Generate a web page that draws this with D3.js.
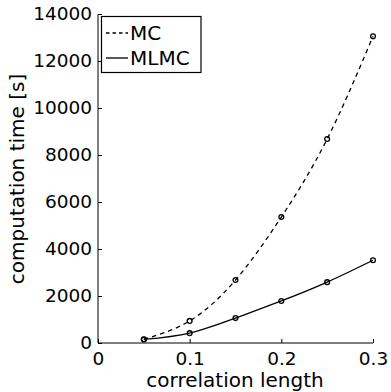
<!DOCTYPE html>
<html lang="en">
<head>
<meta charset="utf-8">
<title>Computation time</title>
<script src="https://d3js.org/d3.v7.min.js"></script>
<style type="text/css">
  body { margin: 0; background: white; }
  .tick text { font-family: "DejaVu Sans", sans-serif; font-size: 18.5px; fill: black; }
  .lbl { font-family: "DejaVu Sans", sans-serif; font-size: 20px; fill: black; }
</style>
</head>
<body>
<svg width="391" height="392"></svg>
<script type="text/javascript">
// data
const corrLength = [0.05, 0.1, 0.15, 0.2, 0.25, 0.3];
const mcTime = [160, 940, 2680, 5360, 8680, 13050];
const mlmcTime = [150, 420, 1060, 1790, 2590, 3520];
const xTicks = [0, 0.1, 0.2, 0.3];
const yTicks = [0, 2000, 4000, 6000, 8000, 10000, 12000, 14000];

const svg = d3.select("svg");
const plotLeft = 98, plotRight = 373, plotTop = 14, plotBottom = 343;

const x = d3.scaleLinear().domain([0, 0.3]).range([plotLeft, plotRight]);
const y = d3.scaleLinear().domain([0, 14000]).range([plotBottom, plotTop]);

// axes, ticks pointing inward
svg.append("g")
   .attr("transform", "translate(0," + plotBottom + ")")
   .call(d3.axisBottom(x).tickValues(xTicks).tickSize(-4).tickPadding(9).tickFormat(d => d === 0 ? "0" : d3.format(".1f")(d)))
   .call(g => g.select(".domain").attr("stroke", "black").attr("d", "M" + plotLeft + ",0H" + plotRight))
   .call(g => g.selectAll(".tick line").attr("stroke", "black"));

svg.append("g")
   .attr("transform", "translate(" + plotLeft + ",0)")
   .call(d3.axisLeft(y).tickValues(yTicks).tickSize(-4).tickPadding(6).tickFormat(d3.format("d")))
   .call(g => g.select(".domain").attr("stroke", "black").attr("d", "M0," + plotBottom + "V" + plotTop))
   .call(g => g.selectAll(".tick line").attr("stroke", "black"));

// lines
const line = d3.line()
               .x(d => x(d[0]))
               .y(d => y(d[1]))
               .curve(d3.curveNatural);

const series = [
  { name: "MC", values: mcTime, dash: "4.5,4" },
  { name: "MLMC", values: mlmcTime, dash: null }
];

series.forEach(s => {
  const pts = corrLength.map((c, i) => [c, s.values[i]]);
  svg.append("path")
     .datum(pts)
     .attr("fill", "none")
     .attr("stroke", "black")
     .attr("stroke-width", 1.3)
     .attr("stroke-dasharray", s.dash)
     .attr("d", line);
  svg.selectAll(null)
     .data(pts)
     .enter()
     .append("circle")
     .attr("cx", d => x(d[0]))
     .attr("cy", d => y(d[1]))
     .attr("r", 2.4)
     .attr("fill", "none")
     .attr("stroke", "black")
     .attr("stroke-width", 1.3);
});

// legend
const legend = svg.append("g");
legend.append("rect")
      .attr("x", 101.5).attr("y", 16.5)
      .attr("width", 99.5).attr("height", 56)
      .attr("fill", "white").attr("stroke", "black").attr("stroke-width", 1.2);
series.forEach((s, i) => {
  const ly = 33 + i * 25;
  legend.append("line")
        .attr("x1", 106).attr("x2", 128)
        .attr("y1", ly).attr("y2", ly)
        .attr("stroke", "black").attr("stroke-width", 1.3)
        .attr("stroke-dasharray", s.dash ? "3.5,3" : null);
  legend.append("text")
        .attr("class", "lbl")
        .attr("x", 130).attr("y", ly + 7)
        .text(s.name);
});

// axis titles
svg.append("text")
   .attr("class", "lbl")
   .attr("text-anchor", "middle")
   .attr("x", 235).attr("y", 387)
   .text("correlation length");

svg.append("text")
   .attr("class", "lbl")
   .attr("text-anchor", "middle")
   .attr("transform", "translate(24,179) rotate(-90)")
   .text("computation time [s]");
</script>
</body>
</html>
